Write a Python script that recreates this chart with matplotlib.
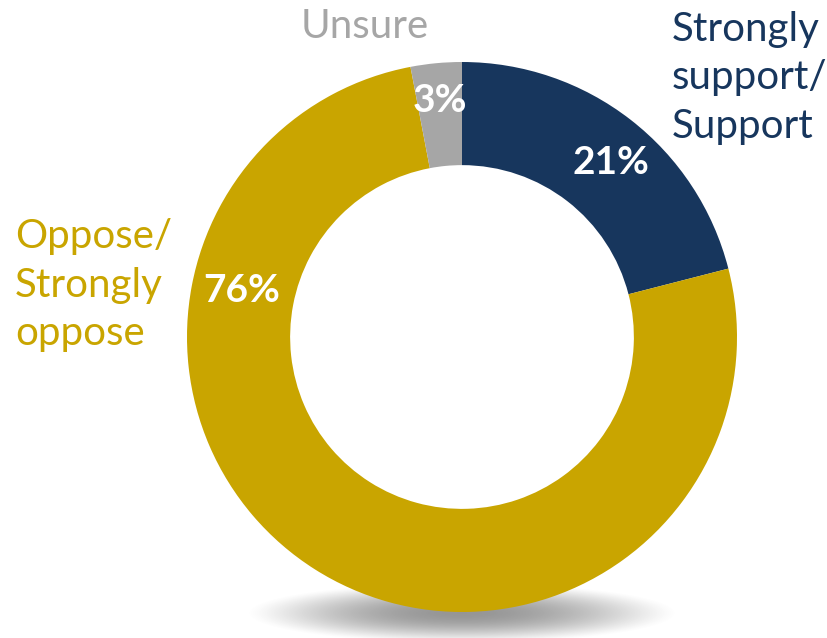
import numpy as np
import matplotlib
matplotlib.use("Agg")
import matplotlib.pyplot as plt

categories = ["Strongly support/ Support", "Oppose/ Strongly oppose", "Unsure"]
values = [21, 76, 3]
pct_labels = ["21%", "76%", "3%"]
colors = ["#17365d", "#c9a500", "#a6a6a6"]

W, H = 827, 638
fig = plt.figure(figsize=(W / 100, H / 100), dpi=100)
ax = fig.add_axes([0, 0, 1, 1])
ax.set_xlim(0, W)
ax.set_ylim(0, H)
ax.set_aspect("equal")
ax.axis("off")

font = "Lato"
cx, cy, R = 462, H - 337, 275

# shadow
sx, sy, sw, sh = 462, H - 613, 215, 30
xs = np.linspace(sx - sw, sx + sw, 400)
ys = np.linspace(sy - sh, sy + sh, 120)
X, Y = np.meshgrid(xs, ys)
r2 = ((X - sx) / sw) ** 2 + ((Y - sy) / sh) ** 2
alpha = np.clip(1 - r2, 0, 1) ** 1.3 * 0.75
img = np.zeros((len(ys), len(xs), 4))
img[..., :3] = 0.45
img[..., 3] = alpha
ax.imshow(img, extent=[sx - sw, sx + sw, sy - sh, sy + sh], origin="lower",
          zorder=0, interpolation="bilinear")

wedges, _ = ax.pie(values, colors=colors, startangle=90, counterclock=False,
                   radius=R, center=(cx, cy), frame=True,
                   wedgeprops=dict(width=R * 0.375, edgecolor="none"))
for w in wedges:
    w.set_zorder(2)
ax.set_xlim(0, W)
ax.set_ylim(0, H)
ax.axis("off")

fs = 29
pct_pos = [(611, 162), (242, 290), (440, 100)]
for lab, (px, py) in zip(pct_labels, pct_pos):
    ax.text(px, H - py, lab, color="white", fontsize=28, fontweight="bold",
            family=font, ha="center", va="center", zorder=3)

ax.text(672, H - 78, "Strongly\nsupport/\nSupport", color=colors[0], fontsize=fs,
        family=font, ha="left", va="center", linespacing=1.38, zorder=3)
ax.text(15, H - 285, "Oppose/\nStrongly\noppose", color=colors[1], fontsize=fs,
        family=font, ha="left", va="center", linespacing=1.38, zorder=3)
ax.text(365, H - 27, "Unsure", color=colors[2], fontsize=fs,
        family=font, ha="center", va="center", zorder=3)

fig.savefig("out.png", dpi=100)
